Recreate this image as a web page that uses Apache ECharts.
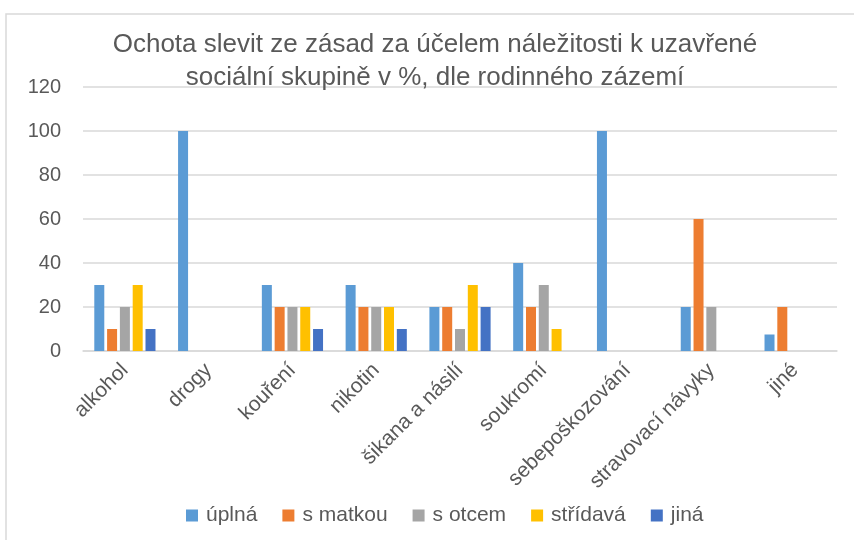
<!DOCTYPE html>
<html lang="cs">
<head>
    <meta charset="UTF-8">
    <title>Ochota slevit ze zásad</title>
    <script src="https://cdn.jsdelivr.net/npm/echarts@6/dist/echarts.min.js"></script>
    <style type="text/css">
        html, body { margin: 0; padding: 0; background: #fff; }
        #chartData { width: 854px; height: 540px; }
    </style>
</head>
<body>
<div id="chartData"></div>
<script type="text/javascript">
    // kategorie a hodnoty (v %)
    var categories = ['alkohol', 'drogy', 'kouření', 'nikotin', 'šikana a násilí', 'soukromí', 'sebepoškozování', 'stravovací návyky', 'jiné'];
    var uplna    = [30, 100, 30, 30, 20, 40, 100, 20, 7.5];
    var sMatkou  = [10, 0, 20, 20, 20, 20, 0, 60, 20];
    var sOtcem   = [20, 0, 20, 20, 10, 30, 0, 20, 0];
    var stridava = [30, 0, 20, 20, 30, 10, 0, 0, 0];
    var jina     = [10, 0, 10, 10, 20, 0, 0, 0, 0];
    var seriesNames = ['úplná', 's matkou', 's otcem', 'střídavá', 'jiná'];
    var yTicks = [0, 20, 40, 60, 80, 100, 120];

    var colors = ['#5B9BD5', '#ED7D31', '#A5A5A5', '#FFC000', '#4472C4'];
    var textColor = '#595959';
    var lineColor = '#D9D9D9';
    var font = 'Liberation Sans';

    var myChart = echarts.init(document.getElementById('chartData'));

    var seriesData = [uplna, sMatkou, sOtcem, stridava, jina];
    var series = [];
    for (var i = 0; i < seriesData.length; i++) {
        series.push({
            type: 'bar',
            name: seriesNames[i],
            data: seriesData[i],
            barWidth: 10,
            barGap: '28%',
            itemStyle: { color: colors[i] }
        });
    }

    var option = {
        animation: false,
        color: colors,
        textStyle: { fontFamily: font },
        title: {
            text: 'Ochota slevit ze zásad za účelem náležitosti k uzavřené\nsociální skupině v %, dle rodinného zázemí',
            left: 435,
            top: 28,
            textAlign: 'center',
            padding: 0,
            textStyle: {
                fontFamily: font,
                fontSize: 26,
                fontWeight: 'normal',
                color: textColor,
                lineHeight: 33
            }
        },
        graphic: [{
            type: 'rect',
            shape: { x: 6, y: 14, width: 880, height: 560 },
            style: { fill: 'none', stroke: lineColor, lineWidth: 1.5 },
            silent: true,
            z: -1
        }],
        legend: {
            data: seriesNames,
            left: 181,
            top: 500,
            itemWidth: 12,
            itemHeight: 12,
            itemGap: 25,
            icon: 'rect',
            textStyle: { fontFamily: font, fontSize: 21, color: textColor, padding: [0, 0, 0, 3] }
        },
        grid: { left: 83, right: 17, top: 87, bottom: 189, containLabel: false },
        xAxis: {
            type: 'category',
            data: categories,
            axisLine: { show: true, lineStyle: { color: lineColor, width: 1.5 } },
            axisTick: { show: false },
            axisLabel: {
                rotate: 45,
                interval: 0,
                margin: 16,
                fontFamily: font,
                fontSize: 21,
                color: textColor
            }
        },
        yAxis: {
            type: 'value',
            min: yTicks[0],
            max: yTicks[yTicks.length - 1],
            interval: 20,
            axisLine: { show: false },
            axisTick: { show: false },
            axisLabel: { margin: 22, fontFamily: font, fontSize: 20, color: textColor },
            splitLine: { lineStyle: { color: lineColor, width: 1.5 } }
        },
        series: series
    };
    myChart.setOption(option);
</script>
</body>
</html>
